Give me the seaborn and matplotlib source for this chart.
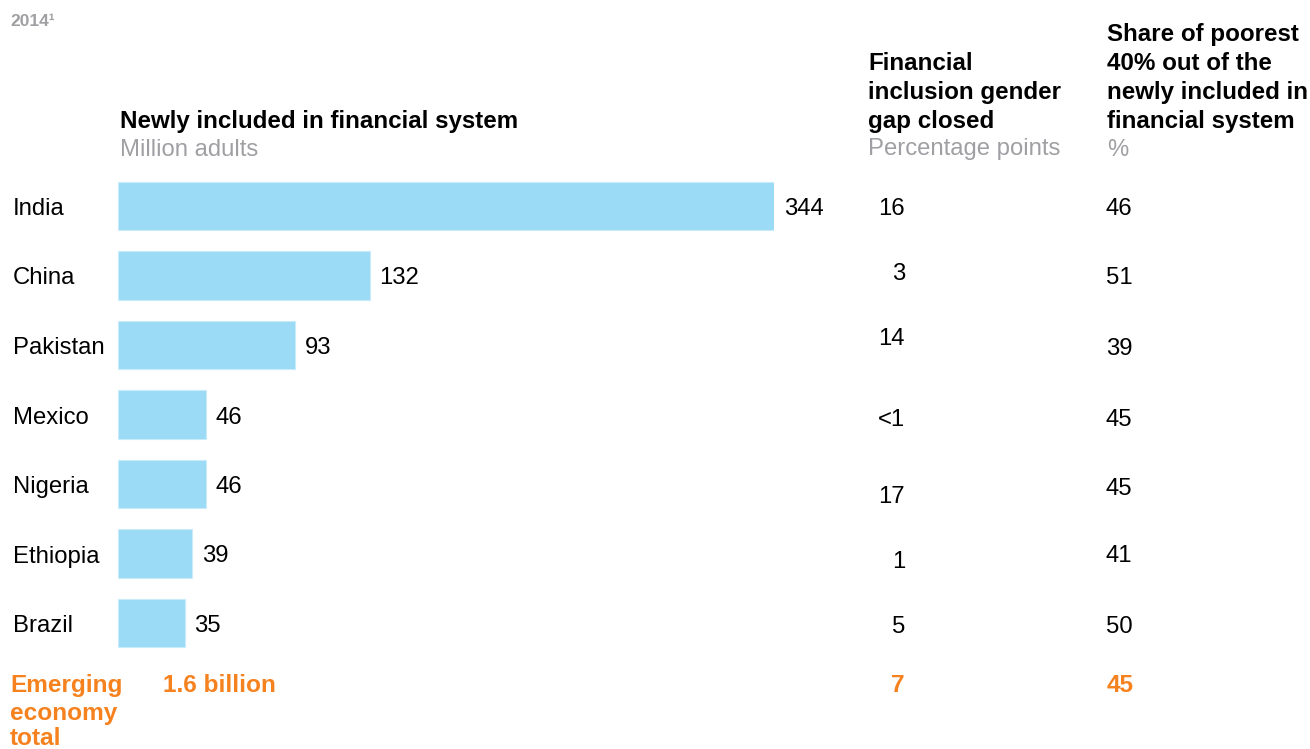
import numpy as np
import pandas as pd
import matplotlib
matplotlib.use("Agg")
import matplotlib.pyplot as plt
import matplotlib.transforms as mtransforms
import seaborn as sns

# data
countries = ["India", "China", "Pakistan", "Mexico", "Nigeria", "Ethiopia", "Brazil"]
newly_included = [344, 132, 93, 46, 46, 39, 35]
gender_gap = ["16", "3", "14", "<1", "17", "1", "5"]
poorest_share = ["46", "51", "39", "45", "45", "41", "50"]
total_included = "1.6 billion"
total_gap = "7"
total_share = "45"

BLUE = "#9bdbf5"
ORANGE = "#f5821f"
GREY = "#a0a0a4"

sns.set_theme(style="white")
plt.rcParams["font.family"] = ["Liberation Sans", "DejaVu Sans"]
plt.rcParams["text.color"] = "black"

W, H = 1310, 749
fig = plt.figure(figsize=(W / 100, H / 100), dpi=100)

# bar axes: x 118..774 px for 0..344, rows centred 206..623 px
row0, rowstep = 206, 69.5
top_px = row0 - rowstep / 2
bot_px = row0 + 6 * rowstep + rowstep / 2
ax = fig.add_axes([118 / W, 1 - bot_px / H, (774 - 118) / W, (bot_px - top_px) / H])

df = pd.DataFrame({"country": countries, "value": newly_included})
sns.barplot(data=df, x="value", y="country", color=BLUE, width=0.7,
            orient="h", ax=ax, saturation=1, edgecolor="#c9ecfa", linewidth=0.8)
ax.set_xlim(0, max(newly_included))
ax.set_ylim(6.5, -0.5)
ax.axis("off")

def px(x, y):
    return x / W, 1 - (y + 1.5) / H

FS = 17.2
FSB = 17.4

# blended transform: figure fraction x, data y
tr = mtransforms.blended_transform_factory(fig.transFigure, ax.transData)
shift = 3 / rowstep  # text centre sits a little below the bbox centre

# value labels next to bars
for i, v in enumerate(newly_included):
    ax.annotate(str(v), (v, i + shift), xytext=(7, 0), textcoords="offset points",
                va="center", ha="left", fontsize=FS, color="black",
                annotation_clip=False)

# the reference's middle column is a bit ragged vertically
gap_shift = [0, -5, -9, 2, 10, 5, 1]
share_shift = [0, 0, 1, 2, 2, 0, 1]
for i, c in enumerate(countries):
    ax.text(13 / W, i + shift, c, transform=tr, va="center", ha="left", fontsize=FS)
    ax.text(905 / W, i + shift + gap_shift[i] / rowstep, gender_gap[i], transform=tr,
            va="center", ha="right", fontsize=FS)
    ax.text(1106 / W, i + shift + share_shift[i] / rowstep, poorest_share[i], transform=tr,
            va="center", ha="left", fontsize=FS)

# headers
fig.text(*px(10, 20), "2014¹", fontsize=12.5, fontweight="bold", color=GREY, va="center")
fig.text(*px(120, 120), "Newly included in financial system", fontsize=FSB,
         fontweight="bold", va="center")
fig.text(*px(120, 148), "Million adults", fontsize=FS, color=GREY, va="center")

for y, line in zip([62, 91, 120], ["Financial", "inclusion gender", "gap closed"]):
    fig.text(*px(868, y), line, fontsize=FSB, fontweight="bold", va="center")
fig.text(*px(868, 148), "Percentage points", fontsize=FS, color=GREY, va="center")

for y, line in zip([33, 62, 91, 120],
                   ["Share of poorest", "40% out of the", "newly included in", "financial system"]):
    fig.text(*px(1107, y), line, fontsize=FSB, fontweight="bold", va="center")
fig.text(*px(1107, 148), "%", fontsize=FS, color=GREY, va="center")

# total row
for y, line in zip([684, 712, 737], ["Emerging", "economy", "total"]):
    fig.text(*px(10, y), line, fontsize=17.6, fontweight="bold", color=ORANGE, va="center")
fig.text(*px(163, 684), total_included, fontsize=17.6, fontweight="bold", color=ORANGE, va="center")
fig.text(*px(905, 684), total_gap, fontsize=17.6, fontweight="bold", color=ORANGE,
         va="center", ha="right")
fig.text(*px(1107, 684), total_share, fontsize=17.6, fontweight="bold", color=ORANGE, va="center")

fig.savefig("out.png", dpi=100, facecolor="white")
